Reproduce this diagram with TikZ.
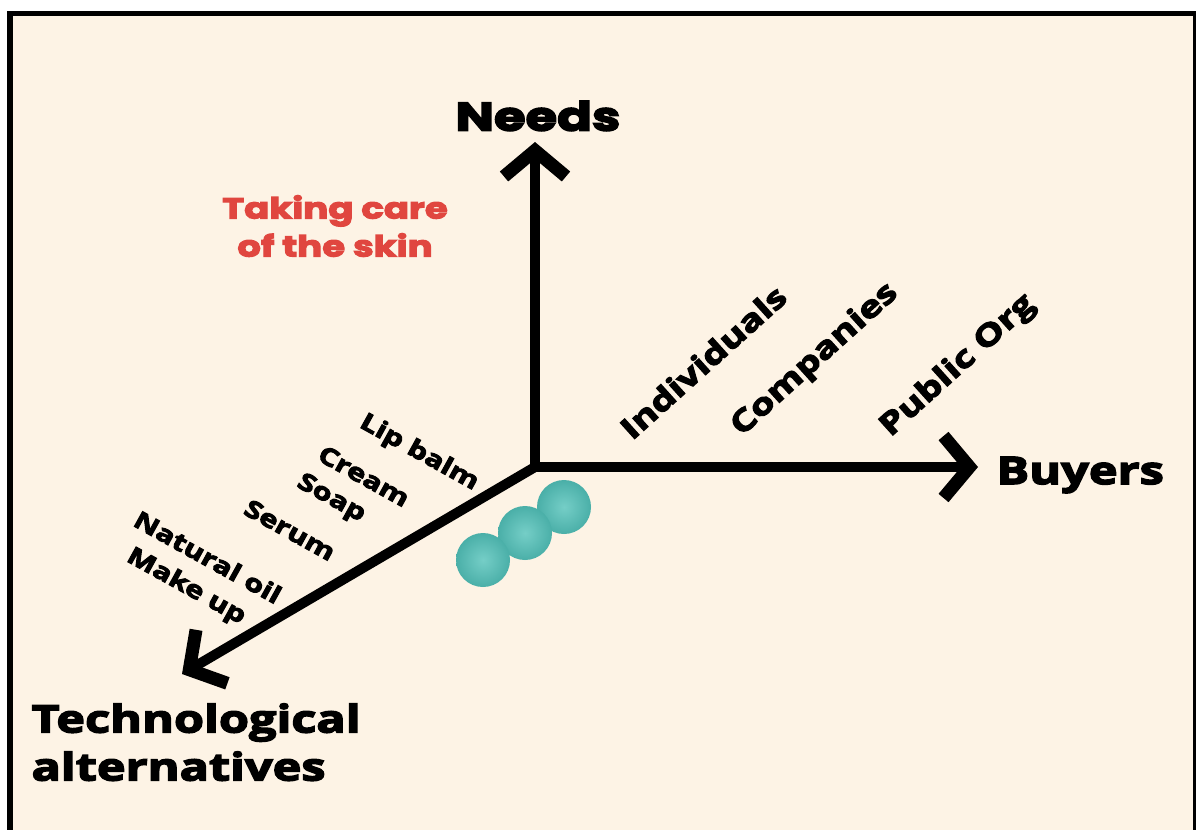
\documentclass[tikz,border=0pt]{standalone}
\usepackage{fontspec}
\setmainfont{Open Sans}[BoldFeatures={FakeBold=4}, FakeStretch=1.28]
\newfontfamily\headfont{Poppins}[BoldFeatures={FakeBold=4}, FakeStretch=1.28]
\usetikzlibrary{arrows.meta}
\definecolor{cream}{HTML}{FDF3E5}
\definecolor{redtxt}{HTML}{E0463F}
\definecolor{ballA}{HTML}{75CEC7}
\definecolor{ballB}{HTML}{4AAFA8}
\tikzset{
  axis/.style={line width=10pt, -{Straight Barb[length=26pt,width=62pt,line width=13pt]}, line join=miter},
  head/.style={font=\headfont\bfseries\fontsize{40}{44}\selectfont},
  big/.style={font=\bfseries\fontsize{38}{48}\selectfont, align=left},
  buyer/.style={font=\bfseries\fontsize{30}{34}\selectfont, rotate=42},
  tech/.style={font=\bfseries\fontsize{24}{28}\selectfont, rotate=-29},
  ball/.style={circle, minimum size=54pt, inner sep=0pt, inner color=ballA, outer color=ballB}
}
\begin{document}
\begin{tikzpicture}[x=1pt,y=-1pt]
\useasboundingbox (0,0) rectangle (1196,830);
\fill[white] (0,0) rectangle (1196,830);
\fill[black] (7,11) rectangle (1196,830);
\fill[cream] (13,16) rectangle (1193,830);

\coordinate (O) at (535,467);
\coordinate (up) at (535,142);
\coordinate (right) at (978,467);
\coordinate (down) at (182,674);

\draw[axis] (O) -- (up);
\draw[axis] (O) -- (right);
\draw[axis] (O) -- (down);

\node[head] (needs) at (538,116) {Needs};
\node[font=\headfont\bfseries\fontsize{29}{38}\selectfont, text=redtxt, align=center] (care) at (335,226) {Taking care\\of the skin};
\node[big, anchor=west] (buyers) at (993,475) {Buyers};
\node[big, anchor=north west] (techalt) at (28,700) {Technological\\alternatives};

\node[buyer] (ind) at (703,362) {Individuals};
\node[buyer] (comp) at (815,360) {Companies};
\node[buyer] (pub) at (958,366) {Public Org};

\node[tech] (lip) at (419,453) {Lip balm};
\node[tech] (cream) at (364,476) {Cream};
\node[tech] (soap) at (331,499) {Soap};
\node[tech] (serum) at (290,530) {Serum};
\node[tech] (oil) at (208,557) {Natural oil};
\node[tech] (make) at (186,587) {Make up};

\node[ball] (b3) at (564,507) {};
\node[ball] (b2) at (525,533) {};
\node[ball] (b1) at (483,560) {};
\end{tikzpicture}
\end{document}
